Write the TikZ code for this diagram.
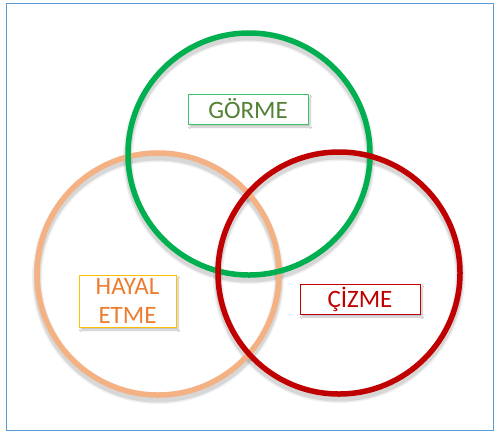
\documentclass[tikz,border=0pt]{standalone}
\usepackage{fontspec}
\setmainfont{Carlito}
\usetikzlibrary{shadows.blur}
\definecolor{frameblue}{HTML}{5B9BD5}
\definecolor{cgreen}{HTML}{00B050}
\definecolor{corange}{HTML}{F4B183}
\definecolor{cred}{HTML}{C00000}
\definecolor{tgreen}{HTML}{548235}
\definecolor{torange}{HTML}{ED7D31}
\definecolor{bgreen}{HTML}{3CC56A}
\definecolor{bgold}{HTML}{FFC000}
\tikzset{
  ring/.style={draw=#1, line width=5.5pt},
  ringshadow/.style={draw=black, opacity=0.10, line width=7pt},
  lbl/.style={draw=#1, line width=0.9pt, fill=white, inner sep=0pt, font=\fontsize{25}{29}\selectfont, align=center,
     blur shadow={shadow xshift=2pt, shadow yshift=-3pt, shadow opacity=25, shadow blur steps=6}},
}
\begin{document}
\begin{tikzpicture}[x=1pt,y=-1pt]
\useasboundingbox (0,0) rectangle (494,432);
\fill[white] (0,0) rectangle (494,432);
\node[draw=frameblue, line width=1pt, minimum width=487pt, minimum height=427pt, inner sep=0pt] (frame) at (249.5,216.5) {};
% shadows of circles
\foreach \c in {(158,278),(249,158),(339,277)}{
  \draw[ringshadow] \c circle[radius=121];
  \draw[draw=black, opacity=0.06, line width=10pt] \c circle[radius=121];
}
\draw[ring=corange] (158,274) circle[radius=121];
\draw[ring=cgreen] (249,154) circle[radius=121];
\draw[ring=cred] (339,273) circle[radius=121];
\node[lbl=bgreen, text=tgreen, minimum width=120pt, minimum height=30pt] (gorme) at (248,109) {GÖRME};
\node[lbl=bgold, text=torange, minimum width=97pt, minimum height=52pt] (hayal) at (127.5,301) {HAYAL\\ETME};
\node[lbl=cred, text=cred, minimum width=120pt, minimum height=30pt] (cizme) at (360,299) {ÇİZME};
\end{tikzpicture}
\end{document}
